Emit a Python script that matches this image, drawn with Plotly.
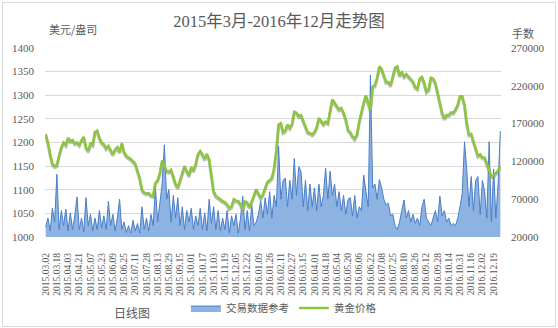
import plotly.graph_objects as go

# ---- data -------------------------------------------------------------
tick_labels = [
    "2015.03.02", "2015.03.18", "2015.04.03", "2015.04.21", "2015.05.07",
    "2015.05.23", "2015.06.09", "2015.06.25", "2015.07.11", "2015.07.28",
    "2015.08.13", "2015.08.29", "2015.09.15", "2015.10.01", "2015.10.17",
    "2015.11.03", "2015.11.19", "2015.12.05", "2015.12.22", "2016.01.09",
    "2016.01.26", "2016.02.11", "2016.02.27", "2016.03.15", "2016.04.01",
    "2016.04.18", "2016.05.04", "2016.05.20", "2016.06.06", "2016.06.22",
    "2016.07.08", "2016.07.25", "2016.08.10", "2016.08.26", "2016.09.12",
    "2016.09.28", "2016.10.14", "2016.10.31", "2016.11.16", "2016.12.02",
    "2016.12.19",
]
samples_per_tick = 5

# gold price, USD/oz
price = [
    1218, 1200, 1175, 1155, 1150, 1152, 1172, 1190, 1200, 1195,
    1210, 1203, 1205, 1198, 1200, 1195, 1205, 1212, 1190, 1182,
    1198, 1195, 1222, 1225, 1210, 1200, 1196, 1188, 1193, 1183,
    1175, 1185, 1190, 1180, 1199, 1180, 1172, 1168, 1165, 1160,
    1155, 1140, 1125, 1100, 1094, 1092, 1093, 1088, 1087, 1115,
    1120, 1135, 1162, 1150, 1140, 1138, 1142, 1128, 1112, 1105,
    1118, 1135, 1150, 1140, 1130, 1148, 1140, 1155, 1175, 1182,
    1175, 1165, 1176, 1164, 1129, 1097, 1087, 1083, 1080, 1076,
    1074, 1069, 1061, 1065, 1080, 1077, 1076, 1069, 1058, 1075,
    1073, 1063, 1075, 1090, 1101, 1092, 1083, 1090, 1103, 1117,
    1120, 1125, 1145, 1182, 1238, 1241, 1222, 1225, 1238, 1231,
    1239, 1265, 1263, 1256, 1258, 1245, 1234, 1222, 1220, 1217,
    1222, 1232, 1252, 1244, 1239, 1244, 1241, 1266, 1291, 1284,
    1277, 1270, 1273, 1263, 1249, 1227, 1222, 1213, 1208, 1217,
    1244, 1266, 1284, 1300, 1284, 1268, 1319, 1321, 1337, 1361,
    1356, 1342, 1328, 1328, 1321, 1340, 1358, 1361, 1342, 1349,
    1340, 1345, 1339, 1334, 1329, 1317, 1314, 1335, 1339, 1326,
    1308, 1312, 1337, 1335, 1326, 1305, 1286, 1263, 1251, 1258,
    1258, 1264, 1263, 1270, 1280, 1298, 1298, 1280, 1241, 1217,
    1218, 1203, 1183, 1172, 1175, 1168, 1168, 1156, 1143, 1129,
    1129, 1134, 1141, 1150,
]

# traded lots, thousands
volume_k = [
    33, 45, 28, 58, 40, 103, 30, 55, 35, 57,
    28, 52, 30, 48, 73, 30, 45, 27, 72, 35,
    50, 28, 45, 30, 55, 32, 48, 30, 67, 35,
    50, 28, 45, 70, 30, 40, 26, 35, 25, 42,
    28, 38, 25, 60, 30, 45, 28, 50, 35, 85,
    40, 65, 90, 142, 70, 83, 40, 75, 45, 72,
    35, 60, 30, 55, 40, 58, 30, 48, 35, 58,
    30, 52, 28, 70, 38, 60, 30, 55, 28, 45,
    30, 55, 25, 48, 35, 50, 25, 45, 74, 30,
    55, 28, 62, 35, 40, 50, 68, 45, 72, 50,
    80, 45, 75, 60, 140, 70, 95, 98, 60, 95,
    70, 124, 75, 113, 107, 60, 95, 55, 90, 60,
    85, 55, 90, 60, 75, 111, 70, 107, 75, 90,
    60, 80, 55, 75, 50, 70, 72, 48, 75, 45,
    60, 55, 102, 80, 60, 234, 85, 90, 70, 96,
    85, 70, 62, 65, 48, 50, 35, 30, 40, 55,
    69, 45, 55, 40, 50, 38, 45, 35, 60, 70,
    45, 40, 35, 45, 55, 40, 74, 48, 55, 40,
    45, 35, 38, 35, 45, 60, 78, 146, 110, 60,
    100, 55, 95, 100, 50, 95, 80, 45, 146, 40,
    110, 45, 90, 160,
]
volume = [v * 1000 for v in volume_k]

x = list(range(len(price)))
tickvals = [k * samples_per_tick for k in range(len(tick_labels))]

GREY = "#595959"
NUM_FONT = "Liberation Serif, Noto Sans CJK SC"
CJK_FONT = "Noto Sans CJK SC"

PRICE_RANGE = [1000, 1400]
VOL_RANGE = [20000, 270000]
PLOT_H = 189  # plot-area height in px
shadow_shift = 1.5 * (PRICE_RANGE[1] - PRICE_RANGE[0]) / PLOT_H

fig = go.Figure()

# soft drop shadow under the price line (same data on a slightly lifted axis)
fig.add_trace(go.Scatter(
    x=x, y=price, yaxis="y", mode="lines",
    line=dict(color="rgba(70,70,70,0.35)", width=3),
    showlegend=False, hoverinfo="skip",
))
fig.add_trace(go.Scatter(
    x=x, y=volume, yaxis="y2", name="交易数据参考", mode="lines",
    fill="tozeroy", fillcolor="#8DB3E2",
    line=dict(color="#4A7EC8", width=1),
))
fig.add_trace(go.Scatter(
    x=x, y=price, yaxis="y3", name="黄金价格", mode="lines",
    line=dict(color="#8CC63F", width=2.5),
))


def note(text, x, y, size=11):
    return dict(text=text, xref="paper", yref="paper", x=x, y=y,
                xanchor="center", yanchor="middle", showarrow=False,
                font=dict(family=CJK_FONT, size=size, color=GREY))


fig.update_layout(
    width=558, height=328,
    margin=dict(l=45, r=57, t=48, b=91, autoexpand=False),
    paper_bgcolor="white", plot_bgcolor="white",
    title=dict(
        text="2015年3月-2016年12月走势图",
        x=0.5, xanchor="center", y=0.935, yanchor="middle",
        font=dict(family=NUM_FONT, size=16.5, color=GREY),
    ),
    xaxis=dict(
        range=[-0.3, 203.3], tickmode="array", tickvals=tickvals,
        ticktext=tick_labels, tickangle=-90, showgrid=False,
        zeroline=False, showline=False, ticks="", automargin=False,
        ticklabelstandoff=13,
        tickfont=dict(family=NUM_FONT, size=9.5, color=GREY),
    ),
    yaxis=dict(
        range=[PRICE_RANGE[0] + shadow_shift, PRICE_RANGE[1] + shadow_shift],
        showgrid=False, zeroline=False, showline=False,
        showticklabels=False, ticks="", automargin=False,
    ),
    yaxis2=dict(
        range=VOL_RANGE, tick0=VOL_RANGE[0], dtick=50000, side="right",
        overlaying="y", showgrid=False, zeroline=False, showline=False,
        ticks="", tickformat="d", ticklabelstandoff=9, automargin=False,
        tickfont=dict(family=NUM_FONT, size=11, color=GREY),
    ),
    yaxis3=dict(
        range=PRICE_RANGE, tick0=PRICE_RANGE[0], dtick=50, side="left",
        overlaying="y", showgrid=True, gridcolor="#D9D9D9", gridwidth=1,
        zeroline=False, showline=False, ticks="", automargin=False,
        ticklabelstandoff=10,
        tickfont=dict(family=NUM_FONT, size=11, color=GREY),
    ),
    legend=dict(
        orientation="h", x=0.309, xanchor="left", y=-0.376, yanchor="middle",
        font=dict(family=CJK_FONT, size=10.5, color=GREY),
        bgcolor="rgba(0,0,0,0)",
    ),
    annotations=[
        note("美元/盎司", 0.0614, 1.1005),
        note("手数", 1.048, 1.079),
        note("日线图", 0.191, -0.397, size=12),
    ],
    shapes=[
        dict(type="rect", xref="paper", yref="paper",
             x0=-0.0932, x1=1.1195, y0=-0.4735, y1=1.2407,
             line=dict(color="#D9D9D9", width=1), fillcolor="rgba(0,0,0,0)"),
    ],
)

fig.write_html("out.html")
